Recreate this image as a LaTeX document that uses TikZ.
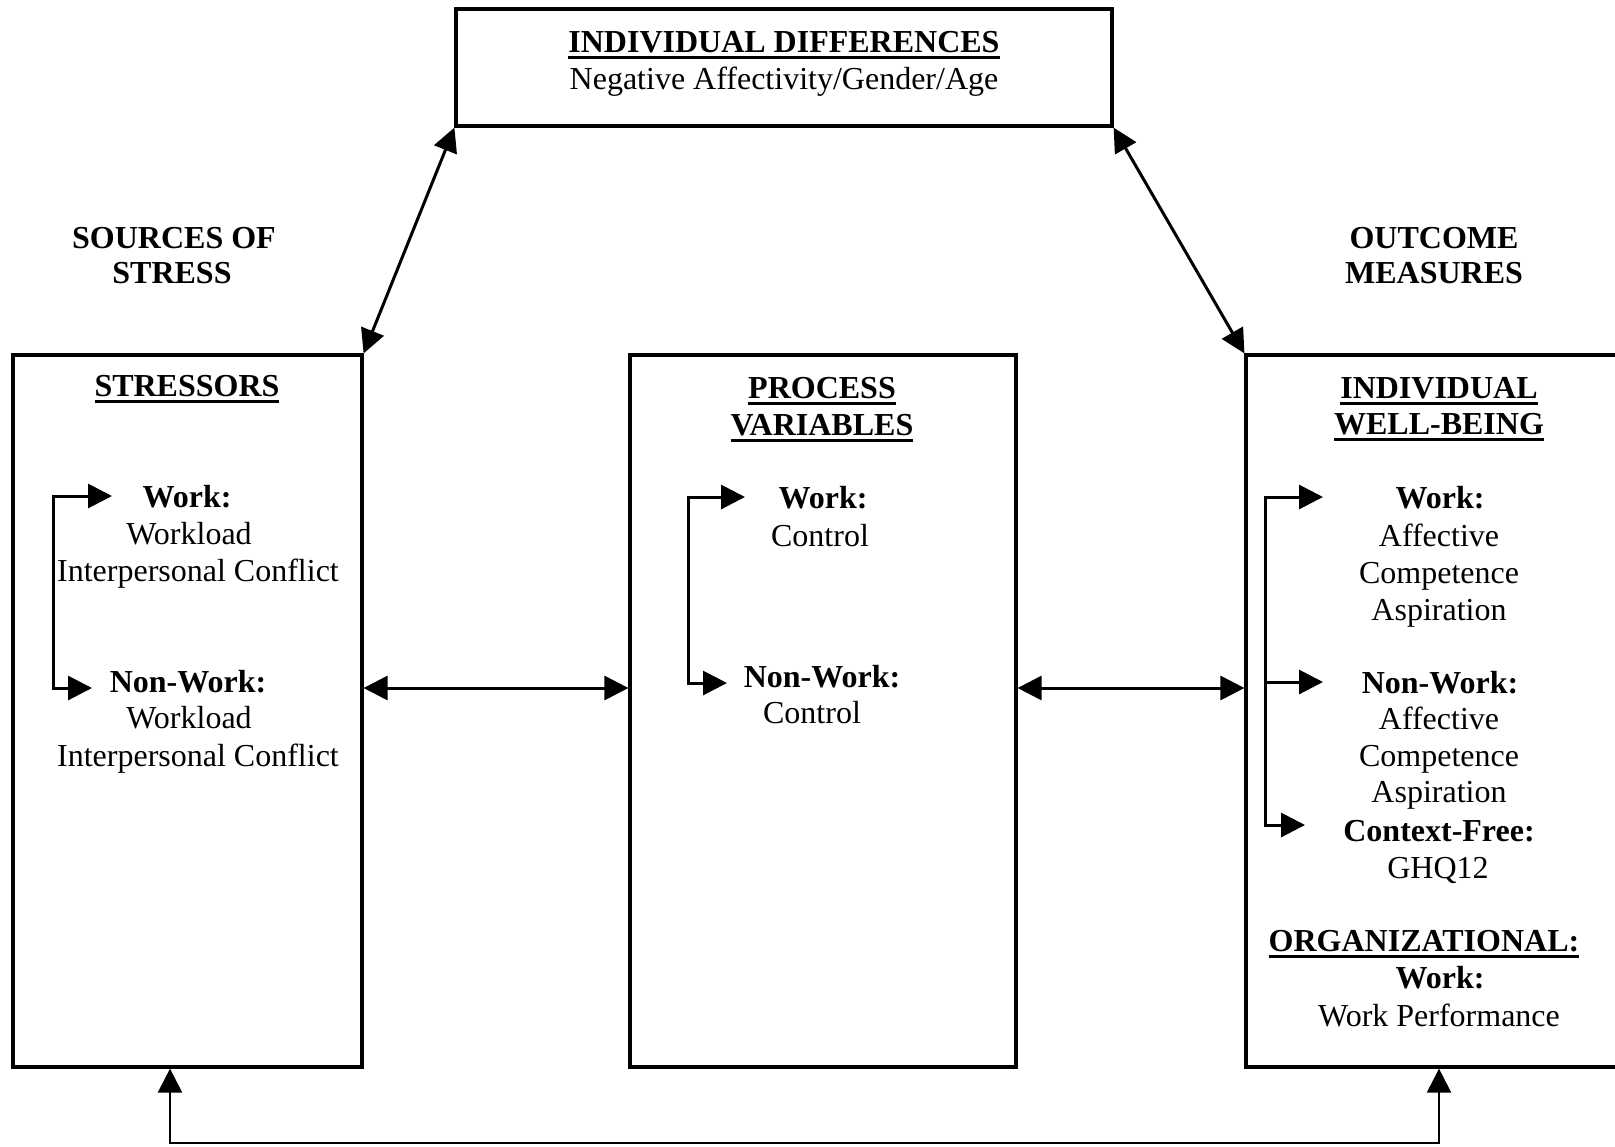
\documentclass[tikz,border=0pt]{standalone}
\usepackage{fontspec}
\setmainfont{Liberation Serif}
\usetikzlibrary{arrows.meta}
% underlined heading with a heavier rule than \underline
\newcommand\ulhead[1]{\setbox0\hbox{\bfseries #1}\rlap{\rule[-3pt]{\wd0}{1.1pt}}\box0}
\begin{document}
\begin{tikzpicture}[x=0.5pt,y=-0.5pt,
  font=\fontsize{16}{18.5}\selectfont,
  box/.style={draw,line width=1.6pt,inner sep=0pt},
  ln/.style={inner sep=0pt,text height=0.66em,text depth=0pt,anchor=center,yshift=-2.5pt},
  hd/.style={ln,font=\fontsize{16}{18.5}\selectfont\bfseries},
  link/.style={line width=1.5pt,{Triangle[length=12pt,width=12pt]}-{Triangle[length=12pt,width=12pt]}},
  onearrow/.style={line width=1.5pt,-{Triangle[length=12pt,width=12pt]}},
  base/.style={line width=1.1pt,{Triangle[length=12pt,width=12pt]}-{Triangle[length=12pt,width=12pt]}}]
\clip (0,0) rectangle (1615,1146);
\fill[white] (0,0) rectangle (1615,1146);

% ---- boxes ----
\node[box,minimum width=328pt,minimum height=58.5pt] (top) at (784,67.5) {};
\node[box,minimum width=174.5pt,minimum height=356pt] (stress) at (187.5,711) {};
\node[box,minimum width=193pt,minimum height=356pt] (proc) at (823,711) {};
\node[box,minimum width=207pt,minimum height=356pt] (well) at (1453,711) {};

% ---- individual differences ----
\node[ln] (idT) at (784,41) {\ulhead{INDIVIDUAL DIFFERENCES}};
\node[ln] (idL) at (784,78) {Negative Affectivity/Gender/Age};

% ---- side headings ----
\node[hd] (src1) at (174,237) {SOURCES OF};
\node[hd] (src2) at (172,272) {STRESS};
\node[hd] (out1) at (1434,237) {OUTCOME};
\node[hd] (out2) at (1434,272) {MEASURES};

% ---- stressors ----
\node[ln] (sT) at (187,385) {\ulhead{STRESSORS}};
\node[hd] (sWork) at (187,496) {Work:};
\node[ln] (sW1) at (189,533) {Workload};
\node[ln] (sW2) at (198,570) {Interpersonal Conflict};
\node[hd] (sNon) at (188,681) {Non-Work:};
\node[ln] (sN1) at (189,717) {Workload};
\node[ln] (sN2) at (198,755) {Interpersonal Conflict};

% ---- process variables ----
\node[ln] (pT1) at (822,387) {\ulhead{PROCESS}};
\node[ln] (pT2) at (822,424) {\ulhead{VARIABLES}};
\node[hd] (pWork) at (823,497) {Work:};
\node[ln] (pW1) at (820,535) {Control};
\node[hd] (pNon) at (822,676) {Non-Work:};
\node[ln] (pN1) at (812,712) {Control};

% ---- well-being ----
\node[ln] (wT1) at (1439,387) {\ulhead{INDIVIDUAL}};
\node[ln] (wT2) at (1439,423) {\ulhead{WELL-BEING}};
\node[hd] (wWork) at (1440,497) {Work:};
\node[ln] (wW1) at (1439,535) {Affective};
\node[ln] (wW2) at (1439,572) {Competence};
\node[ln] (wW3) at (1439,609) {Aspiration};
\node[hd] (wNon) at (1440,682) {Non-Work:};
\node[ln] (wN1) at (1439,718) {Affective};
\node[ln] (wN2) at (1439,755) {Competence};
\node[ln] (wN3) at (1439,791) {Aspiration};
\node[hd] (wCF) at (1439,830) {Context-Free:};
\node[ln] (wCF1) at (1438,867) {GHQ12};
\node[ln] (wOrg) at (1424,940) {\ulhead{ORGANIZATIONAL:}};
\node[hd] (wOW) at (1440,977) {Work:};
\node[ln] (wOW1) at (1439,1015) {Work Performance};

% ---- bracket points inside the boxes ----
\coordinate (sTipA) at (112,496);
\coordinate (sBarA) at (53,496);
\coordinate (sBarB) at (53,688);
\coordinate (sTipB) at (92,688);
\coordinate (pTipA) at (745,497);
\coordinate (pBarA) at (688,497);
\coordinate (pBarB) at (688,683);
\coordinate (pTipB) at (727,683);
\coordinate (wTipA) at (1323,497);
\coordinate (wBarA) at (1265,497);
\coordinate (wBarM) at (1265,682);
\coordinate (wTipM) at (1323,682);
\coordinate (wBarB) at (1265,825);
\coordinate (wTipB) at (1305,825);

\draw[link] (sTipA) -- (sBarA) -- (sBarB) -- (sTipB);
\draw[link] (pTipA) -- (pBarA) -- (pBarB) -- (pTipB);
\draw[link] (wTipA) -- (wBarA) -- (wBarB) -- (wTipB);
\draw[onearrow] (wBarM) -- (wTipM);

% ---- links between boxes ----
\coordinate (midrow) at (0,688);
\draw[link] (top.south west) -- (stress.north east);
\draw[link] (top.south east) -- (well.north west);
\draw[link] (stress.east |- midrow) -- (proc.west |- midrow);
\draw[link] (proc.east |- midrow) -- (well.west |- midrow);

\coordinate (baseL) at (170,1143);
\coordinate (baseR) at (1439,1143);
\draw[base] (stress.south -| baseL) -- (baseL) -- (baseR) -- (well.south -| baseR);
\end{tikzpicture}
\end{document}
